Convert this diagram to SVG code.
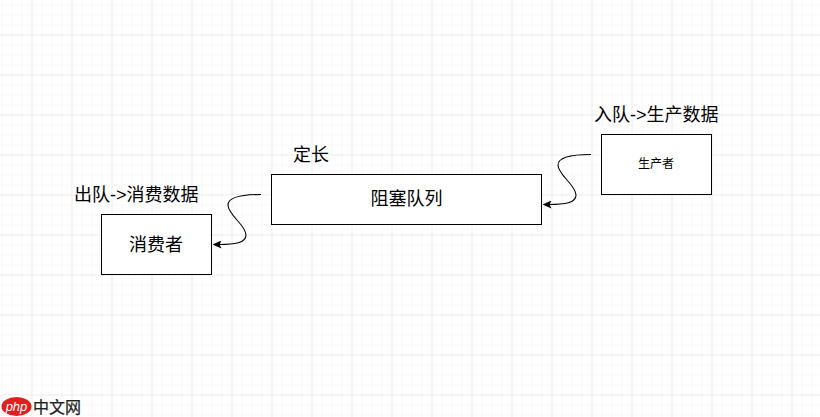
<svg xmlns="http://www.w3.org/2000/svg" width="820" height="417" viewBox="0 0 820 417">
<defs>
<style>
text{font-family:"Liberation Sans","Noto Sans CJK SC",sans-serif;fill:#000}
.box{fill:#fff;stroke:#000;stroke-width:1}
.lbl{font-size:18px}
.conn{fill:none;stroke:#000;stroke-width:1.100;marker-end:url(#arrow)}
</style>
<pattern id="minor" width="10" height="10" patternUnits="userSpaceOnUse" x="1.500" y="4.500"><path d="M0 0H10M0 0V10" fill="none" stroke="#f1f1f1" stroke-width="1"/></pattern>
<pattern id="major" width="40" height="40" patternUnits="userSpaceOnUse" x="31.500" y="34.500"><path d="M0 0H40M0 0V40" fill="none" stroke="#e0e0e0" stroke-width="1"/></pattern>
<marker id="arrow" viewBox="0 0 9 8" refX="3" refY="4" markerWidth="9" markerHeight="8" orient="auto" markerUnits="userSpaceOnUse"><path d="M0 0L9 4L0 8L2 4Z" fill="#000"/></marker>
</defs>
<rect id="bg" width="820" height="417" fill="#fff"/>
<rect width="820" height="417" fill="url(#minor)"/>
<rect width="820" height="417" fill="url(#major)"/>
<g id="connectors">
<path class="conn" d="M591 154.500C570 154.500 558 158 558 165C558 175 576 185 576 195C576 203 565 204.500 548.500 204.500"/>
<path class="conn" d="M261 194.500C240 194.500 228 198 228 205C228 215 246 225 246 235C246 243 235 244.500 218.500 244.500"/>
</g>
<g id="queue"><rect class="box" x="271.500" y="174.500" width="270" height="50"/><text x="406.500" y="204.500" font-size="18" text-anchor="middle">阻塞队列</text></g>
<g id="producer"><rect class="box" x="601.500" y="134.500" width="110" height="60"/><text x="656" y="168" font-size="12" text-anchor="middle">生产者</text></g>
<g id="consumer"><rect class="box" x="101.500" y="214.500" width="110" height="60"/><text x="156" y="251" font-size="18" text-anchor="middle">消费者</text></g>
<g id="label-fixed"><text class="lbl" x="293" y="160.500">定长</text></g>
<g id="label-enqueue"><text class="lbl" x="594" y="120.500">入队-&gt;生产数据</text></g>
<g id="label-dequeue"><text class="lbl" x="74" y="200.500">出队-&gt;消费数据</text></g>
<g id="watermark">
<ellipse cx="16.500" cy="406.500" rx="15" ry="9.500" fill="#e0201e"/>
<text x="16.500" y="410.500" font-size="13" font-style="italic" text-anchor="middle" style="fill:#fff">php</text>
<text x="33" y="413" font-size="16" style="fill:#222;stroke:#222;stroke-width:.25">中文网</text>
</g>
</svg>
